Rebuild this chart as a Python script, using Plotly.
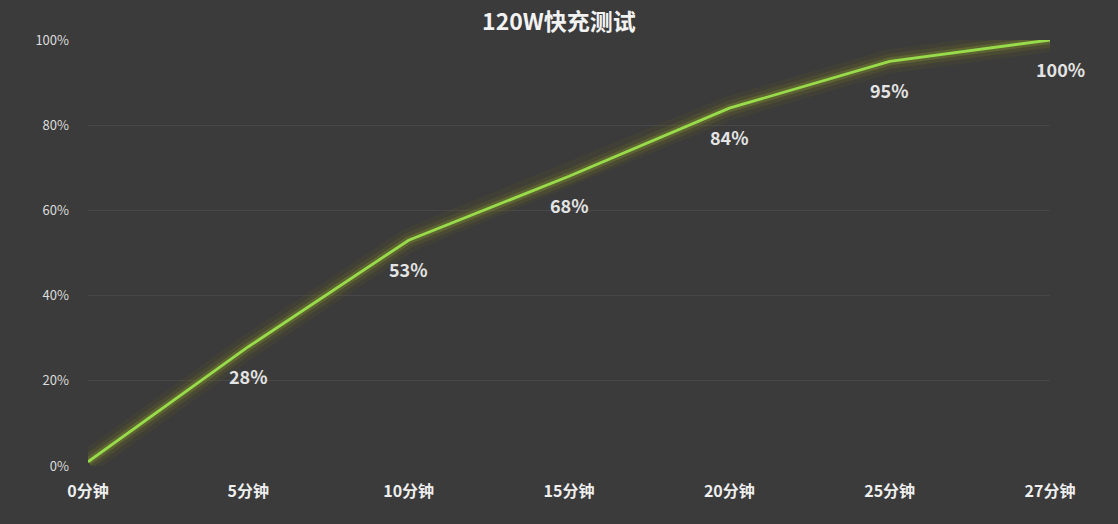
import plotly.graph_objects as go

categories = ["0分钟", "5分钟", "10分钟", "15分钟", "20分钟", "25分钟", "27分钟"]
charge = [1, 28, 53, 68, 84, 95, 100]
label_text = ["", "28%", "53%", "68%", "84%", "95%", "100%"]
y_ticks = [0, 20, 40, 60, 80, 100]
y_tick_labels = ["0%", "20%", "40%", "60%", "80%", "100%"]

x_idx = list(range(len(categories)))

fig = go.Figure()
# glow layers
for w, c in [(24, "rgba(110,105,30,0.12)"), (15, "rgba(125,125,35,0.18)"), (8, "rgba(140,160,45,0.28)")]:
    fig.add_trace(go.Scatter(x=x_idx, y=charge, mode="lines",
                             line=dict(color=c, width=w), hoverinfo="skip", showlegend=False))
fig.add_trace(go.Scatter(x=x_idx, y=charge, mode="lines",
                         line=dict(color="#98dc4c", width=2.8), showlegend=False))

for i, (xv, yv, t) in enumerate(zip(x_idx, charge, label_text)):
    if not t:
        continue
    fig.add_annotation(x=xv, y=yv, text="<b>%s</b>" % t, showarrow=False, yshift=-29,
                       xshift=10 if i == len(x_idx) - 1 else 0,
                       font=dict(size=18, color="#e4e4e4", family="Noto Sans CJK SC"))

fig.update_layout(
    width=1118, height=524,
    paper_bgcolor="#3b3b3b", plot_bgcolor="#3b3b3b",
    margin=dict(l=88, r=68, t=40, b=58),
    title=dict(text="<b>120W快充测试</b>", x=0.5, xanchor="center", y=0.958, yanchor="middle",
               font=dict(size=23, color="#f2f2f2", family="Noto Sans CJK SC")),
    xaxis=dict(tickmode="array", tickvals=x_idx, ticktext=["<b>%s</b>" % c for c in categories],
               range=[0, 6],
               showgrid=False, zeroline=False, showline=False, ticks="", ticklabelstandoff=14,
               tickfont=dict(size=16, color="#eeeeee", family="Noto Sans CJK SC"),
               fixedrange=True),
    yaxis=dict(tickmode="array", tickvals=y_ticks, ticktext=y_tick_labels, range=[0, 100],
               showgrid=True, gridcolor="#474747", gridwidth=1.2, zeroline=False, showline=False,
               ticks="", ticklabelstandoff=18,
               tickfont=dict(size=13, color="#dddddd", family="Noto Sans CJK SC"),
               fixedrange=True),
)

fig.write_html("out.html", config={"displayModeBar": False},
               post_script="document.body.style.margin='0';document.body.style.background='#3b3b3b';")
